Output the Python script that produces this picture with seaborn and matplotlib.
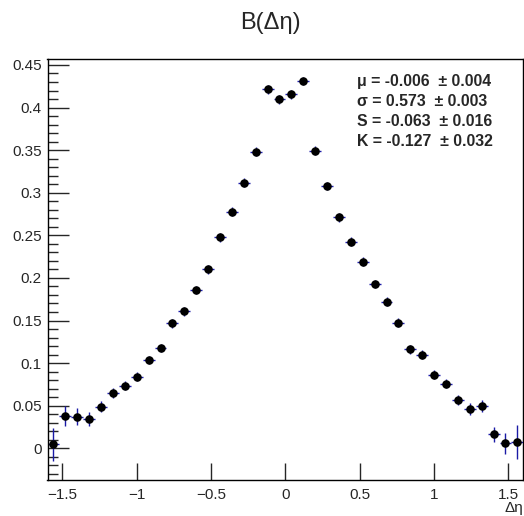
import numpy as np
import pandas as pd
import matplotlib
matplotlib.use("Agg")
import matplotlib.pyplot as plt
from matplotlib.ticker import MultipleLocator
import seaborn as sns

# Bin centres of the delta-eta histogram (bin width 0.08)
deta = [-1.56, -1.48, -1.40, -1.32, -1.24, -1.16, -1.08, -1.00, -0.92, -0.84,
        -0.76, -0.68, -0.60, -0.52, -0.44, -0.36, -0.28, -0.20, -0.12, -0.04,
        0.04, 0.12, 0.20, 0.28, 0.36, 0.44, 0.52, 0.60, 0.68, 0.76,
        0.84, 0.92, 1.00, 1.08, 1.16, 1.24, 1.32, 1.40, 1.48, 1.56]
balance = [0.0047, 0.0383, 0.0371, 0.0344, 0.0489, 0.0645, 0.0735, 0.0840, 0.1037, 0.1178,
           0.1467, 0.1608, 0.1858, 0.2101, 0.2477, 0.2778, 0.3118, 0.3482, 0.4215, 0.4097,
           0.4156, 0.4312, 0.3494, 0.3079, 0.2712, 0.2425, 0.2191, 0.1929, 0.1721, 0.1475,
           0.1162, 0.1099, 0.0864, 0.0758, 0.0567, 0.0458, 0.0500, 0.0164, 0.0059, 0.0070]
balance_err = [0.0196, 0.0117, 0.0100, 0.0080, 0.0065, 0.0060, 0.0055, 0.0050, 0.0050, 0.0050,
               0.0050, 0.0050, 0.0050, 0.0050, 0.0050, 0.0050, 0.0050, 0.0050, 0.0050, 0.0050,
               0.0050, 0.0050, 0.0050, 0.0050, 0.0050, 0.0050, 0.0050, 0.0050, 0.0050, 0.0050,
               0.0050, 0.0050, 0.0050, 0.0050, 0.0060, 0.0070, 0.0070, 0.0090, 0.0120, 0.0200]
half_width = 0.04

stats_lines = ["\u03bc = -0.006  \u00b1 0.004",
               "\u03c3 = 0.573  \u00b1 0.003",
               "S = -0.063  \u00b1 0.016",
               "K = -0.127  \u00b1 0.032"]

df = pd.DataFrame({"deta": deta, "B": balance, "err": balance_err})

sns.set_style("ticks")
plt.rcParams["font.family"] = ["Liberation Sans", "DejaVu Sans"]

fig = plt.figure(figsize=(5.24, 5.16), dpi=100)
ax = fig.add_axes([47.5 / 524, 36 / 516, 475.8 / 524, 421 / 516])

ax.errorbar(df["deta"], df["B"], yerr=df["err"], xerr=half_width,
            fmt="none", ecolor="#1a1aa6", elinewidth=1.0, capsize=0, zorder=2)
sns.scatterplot(data=df, x="deta", y="B", ax=ax, color="black", s=38,
                edgecolor="black", linewidth=0, zorder=3, legend=False)

ax.set_xlim(-1.6, 1.6)
ax.set_ylim(-0.0372, 0.457)
ax.set_xlabel("")
ax.set_ylabel("")

ax.xaxis.set_major_locator(MultipleLocator(0.5))
ax.yaxis.set_major_locator(MultipleLocator(0.05))
ax.yaxis.set_minor_locator(MultipleLocator(0.01))
ax.xaxis.set_major_formatter(matplotlib.ticker.FuncFormatter(lambda v, p: f"{v:g}".replace("-", "\u2212")))
ax.yaxis.set_major_formatter(matplotlib.ticker.FuncFormatter(lambda v, p: f"{v:g}"))

ax.tick_params(axis="x", which="major", direction="in", length=12, width=1,
               labelsize=11, pad=6, top=False)
ax.tick_params(axis="y", which="major", direction="in", length=15, width=1,
               labelsize=11, pad=4, right=False)
ax.tick_params(axis="y", which="minor", direction="in", length=7, width=1, right=False)
for side in ["left", "bottom", "right", "top"]:
    ax.spines[side].set_visible(True)
    ax.spines[side].set_linewidth(1.0)
    ax.spines[side].set_color("black")

fig.text(270 / 524, 1 - 23 / 516, "B(\u0394\u03b7)", ha="center", va="center", fontsize=17)
fig.text(523 / 524, 1 - 508 / 516, "\u0394\u03b7", ha="right", va="center", fontsize=11)

for i, line in enumerate(stats_lines):
    fig.text(357 / 524, 1 - (81.5 + 20 * i) / 516, line, ha="left", va="center",
             fontsize=11.4, fontweight="bold")

fig.savefig("out.png", dpi=100, facecolor="white")
